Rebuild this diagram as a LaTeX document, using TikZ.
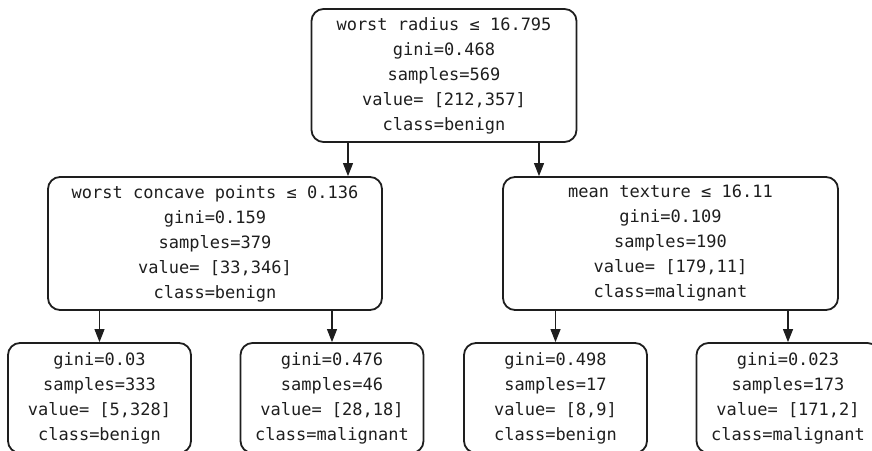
\documentclass[tikz,border=0pt]{standalone}
\usepackage{fontspec}
\setmonofont{DejaVu Sans Mono}
\usepackage{xcolor}
\definecolor{TreeInk}{HTML}{1E1E1E}
\usetikzlibrary{arrows.meta,positioning}
\tikzset{
  splitnode/.style={rectangle,rounded corners=12pt,
    draw=TreeInk,line width=1.8pt,text=TreeInk,
    font=\ttfamily\fontsize{17}{25}\selectfont,
    align=center,inner sep=0pt,minimum height=133pt},
  leafnode/.style={splitnode,minimum width=183pt,minimum height=110pt},
  treeedge/.style={-{Triangle[length=13pt,width=10pt]},TreeInk,line width=1.1pt},
}

\begin{document}
\begin{tikzpicture}[x=1pt,y=1pt]
  \useasboundingbox (0,0) rectangle (872,450);
  \node[splitnode,minimum width=265pt](root)at(444,374.5)
    {worst radius ≤ 16.795\\gini=0.468\\samples=569\\value= [212,357]\\class=benign};
  \node[splitnode,minimum width=334pt](L)at(215,206.5)
    {worst concave points ≤ 0.136\\gini=0.159\\samples=379\\value= [33,346]\\class=benign};
  \node[splitnode,minimum width=335pt](R)at(670.5,206.5)
    {mean texture ≤ 16.11\\gini=0.109\\samples=190\\value= [179,11]\\class=malignant};
  \node[leafnode](LL)at(99.5,52)
    {gini=0.03\\samples=333\\value= [5,328]\\class=benign};
  \node[leafnode](LR)at(332,52)
    {gini=0.476\\samples=46\\value= [28,18]\\class=malignant};
  \node[leafnode](RL)at(555.5,52)
    {gini=0.498\\samples=17\\value= [8,9]\\class=benign};
  \node[leafnode](RR)at(788,52)
    {gini=0.023\\samples=173\\value= [171,2]\\class=malignant};
  \draw[treeedge]([xshift=-96pt]root.south)--([xshift=-96pt]root.south|-L.north);
  \draw[treeedge]([xshift=95pt]root.south)--([xshift=95pt]root.south|-R.north);
  \draw[treeedge](LL.north|-L.south)--(LL.north);
  \draw[treeedge](LR.north|-L.south)--(LR.north);
  \draw[treeedge](RL.north|-R.south)--(RL.north);
  \draw[treeedge](RR.north|-R.south)--(RR.north);
\end{tikzpicture}
\end{document}
